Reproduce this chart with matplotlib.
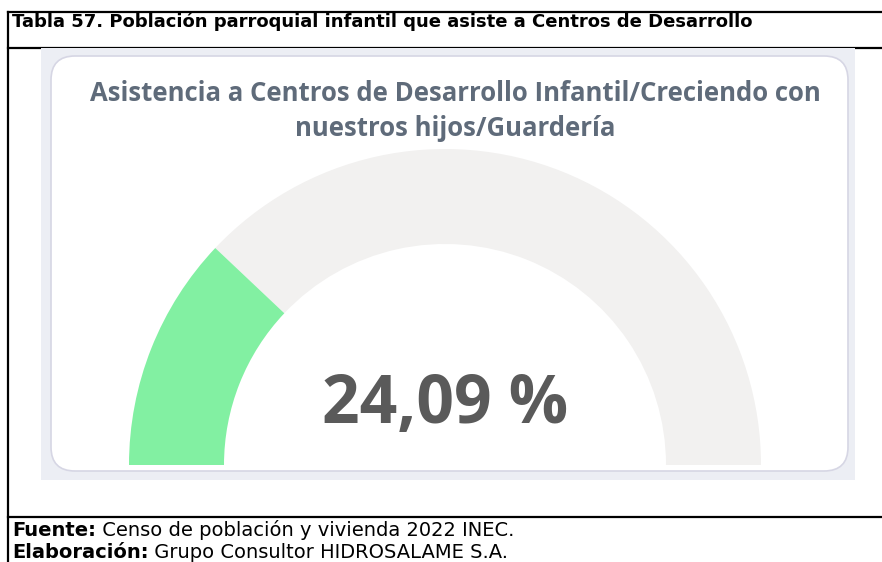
import matplotlib.pyplot as plt
from matplotlib.patches import Wedge, FancyBboxPatch, Rectangle

# data
table_title = "Tabla 57. Población parroquial infantil que asiste a Centros de Desarrollo"
chart_title = "Asistencia a Centros de Desarrollo Infantil/Creciendo con\nnuestros hijos/Guardería"
value = 24.09
max_value = 100.0
source_label = "Fuente:"
source_text = " Censo de población y vivienda 2022 INEC."
made_label = "Elaboración:"
made_text = " Grupo Consultor HIDROSALAME S.A."

W, H = 882, 562
fig = plt.figure(figsize=(W / 100, H / 100), dpi=100)
ax = fig.add_axes([0, 0, 1, 1])
ax.set_xlim(0, W)
ax.set_ylim(0, H)
ax.axis("off")


def Y(y):
    # image rows -> axis y
    return H - y


# table frame
ax.plot([8, W], [Y(12), Y(12)], color="black", lw=1.6)
ax.plot([8, 8], [Y(12), 0], color="black", lw=1.6)
ax.plot([8, W], [Y(48), Y(48)], color="black", lw=1.6)
ax.plot([8, W], [Y(517), Y(517)], color="black", lw=1.6)

# screenshot panel
ax.add_patch(Rectangle((41, Y(480)), 855 - 41, 480 - 48, facecolor="#eceef4", edgecolor="none", zorder=2))
ax.add_patch(FancyBboxPatch((51, Y(471)), 848 - 51, 471 - 56,
                            boxstyle="round,pad=0,rounding_size=24",
                            facecolor="white", edgecolor="#d6d6e4", lw=1.2, zorder=3))

# gauge
cx, cy = 445, Y(465)
r_out, ring = 316, 95
split = 180 - 180 * value / max_value
ax.add_patch(Wedge((cx, cy), r_out, 0, split, width=ring, facecolor="#f2f1f0", edgecolor="none", zorder=4))
ax.add_patch(Wedge((cx, cy), r_out, split, 180, width=ring, facecolor="#82f0a2", edgecolor="none", zorder=4))

ax.text(455, Y(111), chart_title, ha="center", va="center", fontsize=18.5,
        fontfamily="Open Sans", fontweight="bold", color="#5f6b7a", linespacing=1.35, zorder=5)
ax.text(cx, Y(423), f"{value:.2f}".replace(".", ",") + " %", ha="center", va="baseline",
        fontsize=47.5, fontfamily="Open Sans", fontweight="bold", color="#5a5a5a", zorder=5)

# table texts
ax.text(12, Y(27), table_title, ha="left", va="baseline", fontsize=13,
        fontfamily="DejaVu Sans", fontweight="bold", color="black")

for yy, lab, txt in [(536, source_label, source_text), (558, made_label, made_text)]:
    t = ax.text(12, Y(yy), lab, ha="left", va="baseline", fontsize=14,
                fontfamily="DejaVu Sans", fontweight="bold", color="black")
    fig.canvas.draw()
    bb = t.get_window_extent()
    ax.text(bb.x1, Y(yy), txt, ha="left", va="baseline", fontsize=14,
            fontfamily="DejaVu Sans", color="black")

fig.savefig("out.png", dpi=100)
